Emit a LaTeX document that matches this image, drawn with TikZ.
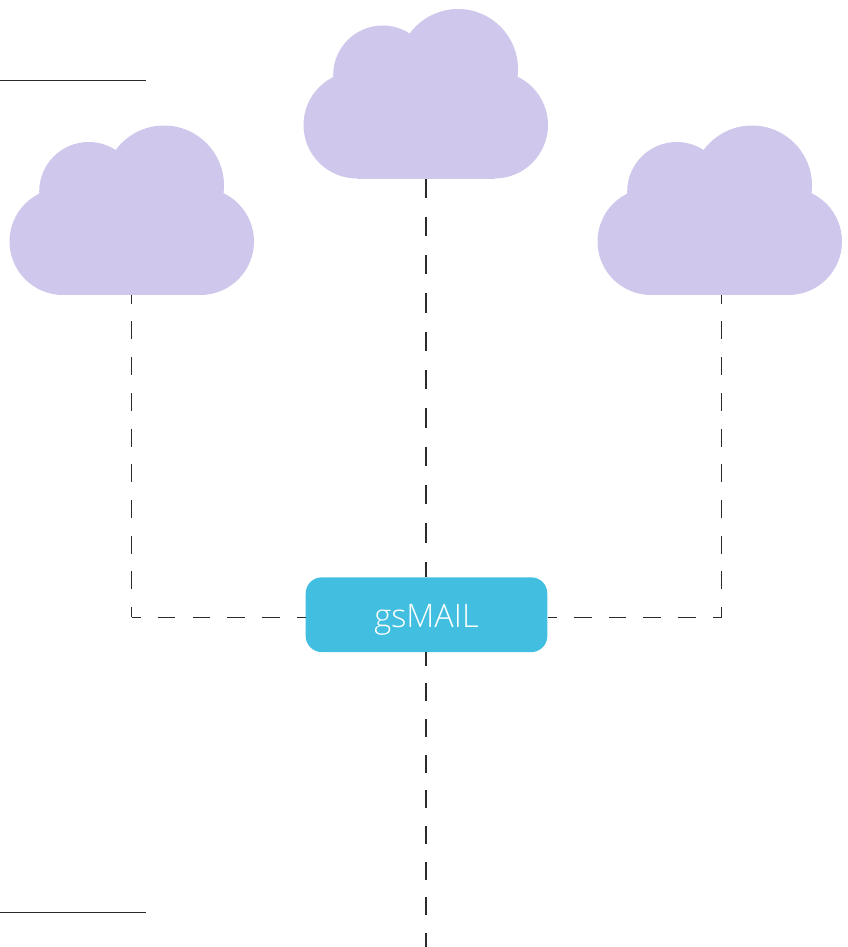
\documentclass[tikz,border=0pt]{standalone}
\usepackage{fontspec}
\newfontfamily\boxfont{Open Sans Light}
\usetikzlibrary{calc,positioning}
\definecolor{cloudfill}{HTML}{CFC8EC}
\definecolor{boxfill}{HTML}{41BEE0}
\definecolor{wire}{HTML}{2B2B2B}
\tikzset{
  rulewire/.style={draw=wire, line width=1pt},
  wiretop/.style={draw=wire, line width=1.1pt, dash pattern=on 19.33pt off 19pt},
  wirelow/.style={draw=wire, line width=1.1pt, dash pattern=on 18pt off 17.67pt, dash phase=4.7pt},
  wireside/.style={draw=wire, line width=1.1pt, dash pattern=on 18pt off 17.7pt, dash phase=9.3pt},
  wireflat/.style={draw=wire, line width=1.1pt, dash pattern=on 17.6pt off 17.1pt, dash phase=8.6pt},
  mailbox/.style={fill=boxfill, rounded corners=16pt, minimum width=241.6pt, minimum height=74.7pt,
    inner sep=0pt, text=white, font=\boxfont\fontsize{32.4}{32.4}\selectfont},
  cloudblob/.pic={
    % origin = middle of the flat bottom edge
    \fill[cloudfill] (-68.5,-53.5) circle (53.5pt);
    \fill[cloudfill] (69,-53.5) circle (53.5pt);
    \fill[cloudfill] (-42.8,-103.5) circle (49.5pt);
    \fill[cloudfill] (32.5,-109.5) circle (60pt);
    \fill[cloudfill] (-68.5,0) rectangle (69,-50);
    \fill[cloudfill] (-92.5,-99.5) -- (-15,-145) -- (92,-100.5) -- (69,-45) -- (-68.5,-45) -- cycle;
  }
}
\begin{document}
\begin{tikzpicture}[x=1pt, y=-1pt]
  \useasboundingbox (0,0) rectangle (847,947);
  \node[mailbox] (gsmail) at (426.5,614.7) {\raisebox{-12.6pt}[0pt][0pt]{gsMAIL}};
  \coordinate (cloudL) at (131.7,295);
  \coordinate (cloudM) at (426,178.3);
  \coordinate (cloudR) at (721.7,295);
  \coordinate (cornerL) at (131.7,617.1);
  \coordinate (cornerR) at (721.7,617.1);
  \coordinate (tailend) at (426,947);
  \coordinate (ruleA) at (0,80.3);
  \coordinate (ruleAend) at (145.7,80.3);
  \coordinate (ruleB) at (0,912.2);
  \coordinate (ruleBend) at (145.7,912.2);
  \draw[wiretop] (cloudM) -- (cloudM |- gsmail.north);
  \draw[wirelow] (cloudM |- gsmail.south) -- (tailend);
  \draw[wireside] (cloudL) -- (cornerL);
  \draw[wireside] (cloudR) -- (cornerR);
  \draw[wireflat] (cornerL) -- (cornerL -| gsmail.west);
  \draw[wireflat] (cornerR) -- (cornerR -| gsmail.east);
  \draw[rulewire] (ruleA) -- (ruleAend);
  \draw[rulewire] (ruleB) -- (ruleBend);
  \pic at (131.5,295) {cloudblob};
  \pic at (425.5,178.5) {cloudblob};
  \pic at (719.5,295) {cloudblob};
\end{tikzpicture}
\end{document}
